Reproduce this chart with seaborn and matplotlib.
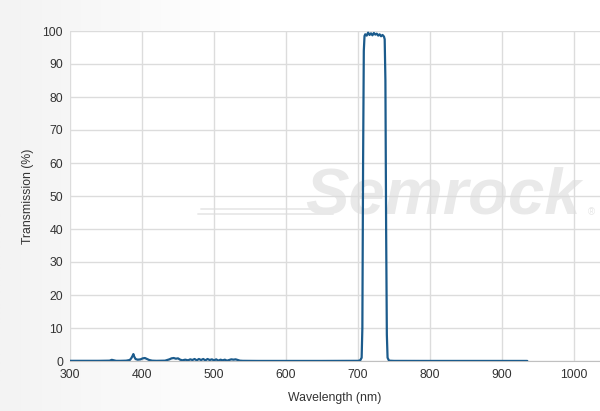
import numpy as np
import pandas as pd
import matplotlib
matplotlib.use("Agg")
import matplotlib.pyplot as plt
import seaborn as sns

# ---- data ----
wavelength = [300, 340, 355, 358, 361, 364, 370, 378, 383, 385, 387, 388, 389, 391, 394, 398,
              401, 404, 407, 410, 414, 420, 432, 438, 441, 444, 447, 450, 453, 456, 460,
              464, 467, 470, 473, 476, 479, 482, 485, 488, 491, 494, 497, 500, 503, 506,
              509, 512, 515, 518, 521, 524, 527, 530, 533, 536, 540, 560, 600, 650, 700,
              703, 705, 706, 707, 708, 709, 710, 712, 714, 716, 718, 720, 722, 724, 726,
              728, 730, 732, 734, 736, 737, 738, 739, 740, 741, 743, 750, 800, 850, 900, 935]
transmission = [0.05, 0.05, 0.1, 0.35, 0.2, 0.05, 0.05, 0.1, 0.3, 0.8, 1.6, 2.1, 1.4, 0.6, 0.4, 0.5,
                0.8, 0.9, 0.6, 0.3, 0.1, 0.05, 0.1, 0.5, 0.8, 0.9, 0.7, 0.8, 0.4, 0.2, 0.4,
                0.2, 0.5, 0.3, 0.6, 0.2, 0.6, 0.3, 0.6, 0.2, 0.6, 0.3, 0.5, 0.2, 0.5, 0.1,
                0.4, 0.2, 0.4, 0.1, 0.3, 0.5, 0.4, 0.5, 0.3, 0.1, 0.05, 0.02, 0.02, 0.02, 0.05,
                0.2, 1.0, 10.0, 60.0, 94.0, 98.5, 99.0, 98.6, 99.5, 98.8, 99.3, 98.7, 99.4, 98.9, 99.2,
                98.6, 99.0, 98.4, 98.8, 98.3, 97.5, 85.0, 40.0, 8.0, 1.0, 0.1, 0.03, 0.02, 0.02, 0.02, 0.02]

x_ticks = [300, 400, 500, 600, 700, 800, 900, 1000]
y_ticks = [0, 10, 20, 30, 40, 50, 60, 70, 80, 90, 100]

df = pd.DataFrame({"Wavelength": wavelength, "Transmission": transmission})

sns.set_style("whitegrid")
plt.rcParams['font.family'] = ['Liberation Sans', 'DejaVu Sans']

fig = plt.figure(figsize=(6, 4.11), dpi=100)

# soft grey-to-white background on the left
bg = fig.add_axes([0, 0, 1, 1], zorder=-10)
grad = np.linspace(0, 1, 256)
grad = np.clip(grad / 0.4, 0, 1)[None, :]
bg.imshow(grad, aspect='auto', cmap=matplotlib.colors.LinearSegmentedColormap.from_list(
    "bg", ["#f3f3f3", "#ffffff"]), extent=[0, 1, 0, 1])
bg.axis('off')

ax = fig.add_axes([70 / 600, 1 - 361 / 411, 530 / 600, 330 / 411])
ax.set_facecolor('white')

# watermark
ax.text(818, 50, "Semrock", fontsize=47, fontweight='bold', fontstyle='italic',
        color='#e9e9e9', ha='center', va='center', zorder=0.5)
ax.text(1024, 45, "®", fontsize=7, color='#e6e6e6', ha='center', va='center', zorder=0.5)
ax.plot([482, 665], [46.0, 46.0], color='#e8e8e8', lw=1.3, zorder=0.5)
ax.plot([478, 665], [44.5, 44.5], color='#e8e8e8', lw=1.3, zorder=0.5)

sns.lineplot(data=df, x="Wavelength", y="Transmission", ax=ax,
             color='#1b5b8c', linewidth=1.6, zorder=3)

ax.set_xlim(300, 1036)
ax.set_ylim(0, 100)
ax.set_xticks(x_ticks)
ax.set_yticks(y_ticks)
ax.grid(True, color='#dcdcdc', linewidth=1.0)
for s in ['top', 'right', 'left']:
    ax.spines[s].set_visible(False)
ax.spines['bottom'].set_color('#c0c0c0')
ax.tick_params(axis='both', length=0, labelsize=8.8, labelcolor='#333333')
ax.tick_params(axis='x', pad=6)
ax.tick_params(axis='y', pad=5)
ax.set_xlabel("Wavelength (nm)", fontsize=8.8, color='#333333', labelpad=8)
ax.set_ylabel("Transmission (%)", fontsize=8.8, color='#333333', labelpad=6)

fig.savefig("out.png", dpi=100)
